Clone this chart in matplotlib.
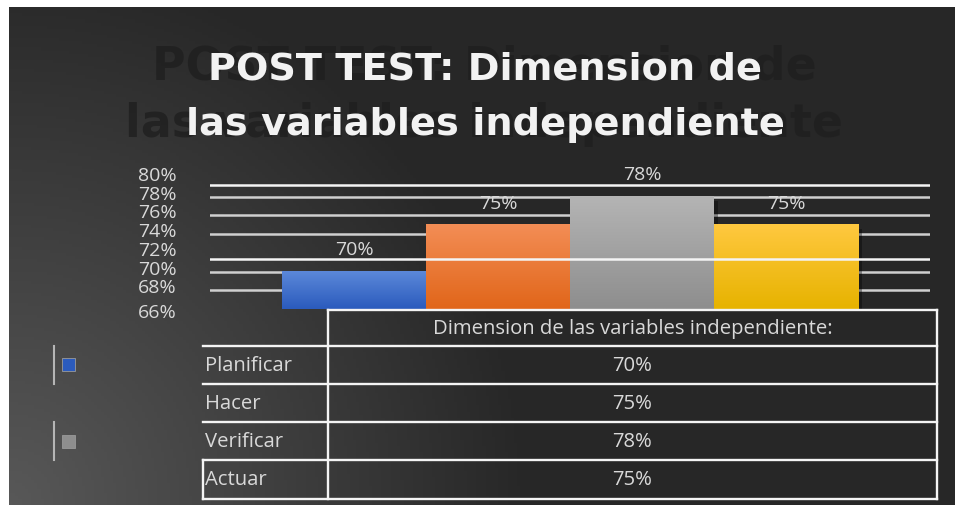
import numpy as np
import matplotlib
matplotlib.use("Agg")
import matplotlib.pyplot as plt
from matplotlib.colors import LinearSegmentedColormap
from matplotlib.lines import Line2D
from matplotlib.patches import Rectangle
from matplotlib.transforms import ScaledTranslation

categories = ["Planificar", "Hacer", "Verificar", "Actuar"]
values = [70, 75, 78, 75]
value_labels = ["70%", "75%", "78%", "75%"]
y_ticks = [66, 68, 70, 72, 74, 76, 78, 80]
y_tick_labels = ["66%", "68%", "70%", "72%", "74%", "76%", "78%", "80%"]
grid_levels = [68, 70, 74, 76, 78]
front_lines = [71.3, 79.2]
table_header = "Dimension de las variables independiente:"
title_lines = ["POST TEST: Dimension de", "las variables independiente"]

# (top, bottom) of each bar gradient
bar_colors = [("#5b88d9", "#2b5bbd"), ("#f38d55", "#e1661a"),
              ("#b4b4b4", "#8e8e8e"), ("#ffc83f", "#e7b300")]
# only two legend keys are left in the original picture
legend_keys = [True, False, True, False]

TXT = "#d9d9d9"
W, H = 955, 506
plt.rcParams["font.family"] = ["Open Sans", "DejaVu Sans"]


def fx(x):
    return x / W


def fy(y):
    return 1 - y / H


fig = plt.figure(figsize=(W / 100, H / 100), dpi=100)
fig.patch.set_facecolor("white")

# dark background, lighter towards the bottom-left corner
bg = fig.add_axes([fx(9), 0, 1 - fx(9), fy(8)])
gx, gy = np.meshgrid(np.linspace(0, 1, 300), np.linspace(0, 1, 160))
t = np.clip(1 - np.sqrt((gx / 0.55) ** 2 + (gy / 1.1) ** 2), 0, 1)
grey = (0x27 + (0x58 - 0x27) * t) / 255
bg.imshow(np.dstack([grey, grey, grey]), origin="lower", aspect="auto",
          extent=(0, 1, 0, 1))
bg.set_axis_off()

# faint ghost of the title, behind the real one
for line, yb in zip(title_lines, [80, 137]):
    fig.text(fx(484), fy(yb), line, ha="center", va="baseline", fontsize=33,
             fontweight="bold", family="DejaVu Sans", color="#1f1f1f", alpha=0.8)
for line, yb in zip(title_lines, [79, 135]):
    fig.text(fx(485), fy(yb), line, ha="center", va="baseline", fontsize=27.5,
             fontweight="bold", family="DejaVu Sans", color="#f2f2f2")

# bar chart
ax = fig.add_axes([fx(210), fy(310), fx(930) - fx(210), fy(179) - fy(310)])
ax.patch.set_alpha(0)
x = np.arange(len(categories))
ymin, ymax = y_ticks[0], y_ticks[-1]

for g in grid_levels:
    ax.axhline(g, color="#cfcfcf", lw=1.8, zorder=1)

shadow = ax.bar(x, values, width=1.0, color="black", alpha=0.35, zorder=1.5)
for p in shadow:
    p.set_transform(ax.transData + ScaledTranslation(3 / 72, -3 / 72, fig.dpi_scale_trans))

bars = ax.bar(x, values, width=1.0, color=[c[0] for c in bar_colors], zorder=2)
for xi, v, (c_top, c_bot) in zip(x, values, bar_colors):
    cmap = LinearSegmentedColormap.from_list("g", [c_bot, c_top])
    ax.imshow(np.linspace(0, 1, 50).reshape(-1, 1), cmap=cmap, origin="lower",
              aspect="auto", extent=(xi - 0.5, xi + 0.5, ymin, v), zorder=2.1)

for xi, v, lab in zip(x, values, value_labels):
    ax.annotate(lab, (xi, v), xytext=(0, 16), textcoords="offset points",
                ha="center", va="center", fontsize=14, color=TXT, zorder=5)

for g in front_lines:
    ax.axhline(g, color="#f4f4f4", lw=1.8, zorder=4)

ax.set_xlim(-1, 4)
ax.set_ylim(ymin, ymax)
ax.set_xticks([])
ax.set_yticks(y_ticks, y_tick_labels)
ax.tick_params(axis="y", length=0, pad=24, labelsize=14, labelcolor=TXT)
for i, lbl in enumerate(ax.get_yticklabels()):
    dy = -0.5 if i == 0 else 3.6
    lbl.set_transform(lbl.get_transform() + ScaledTranslation(0, dy / 72, fig.dpi_scale_trans))
for s in ax.spines.values():
    s.set_visible(False)

# data table under the chart
lw = 1.7
fs = 14.6
tab_l, tab_v, tab_r = 202.5, 328, 936.7
head_top, head_bot, row_h = 310.7, 346.7, 38.2


def seg(x0, y0, x1, y1, color="#f4f4f4", width=lw):
    fig.add_artist(Line2D([fx(x0), fx(x1)], [fy(y0), fy(y1)], color=color,
                          lw=width, transform=fig.transFigure))


n = len(categories)
bottom = head_bot + n * row_h
seg(tab_v, head_top, tab_r, head_top)
seg(tab_v, head_top, tab_v, bottom)
seg(tab_r, head_top, tab_r, bottom)
fig.text(fx((tab_v + tab_r) / 2), fy((head_top + head_bot) / 2), table_header,
         ha="center", va="center", fontsize=fs, color=TXT)

for i, (cat, lab) in enumerate(zip(categories, value_labels)):
    y0 = head_bot + i * row_h
    y1 = y0 + row_h
    seg(tab_l, y0, tab_r, y0)
    if i == n - 1:
        seg(tab_l, y1, tab_r, y1)
        seg(tab_l, y0, tab_l, y1)
    ym = (y0 + y1) / 2
    fig.text(fx(tab_l + 2.5), fy(ym), cat, ha="left", va="center",
             fontsize=fs, color=TXT)
    fig.text(fx((tab_v + tab_r) / 2), fy(ym), lab, ha="center", va="center",
             fontsize=fs, color=TXT)
    if legend_keys[i]:
        seg(53.5, y0, 53.5, y1, color="#b5b5b5", width=1.5)
        fig.add_artist(Rectangle((fx(62), fy(ym + 6.5)), fx(13), 13 / H,
                                 facecolor=bar_colors[i][1], edgecolor="#9a9a9a",
                                 lw=0.6, transform=fig.transFigure))

fig.savefig("out.png", dpi=100)
